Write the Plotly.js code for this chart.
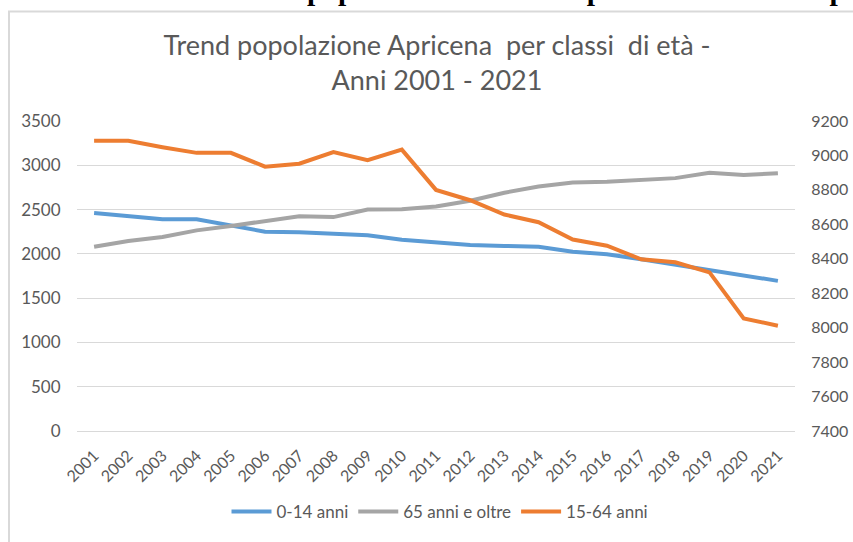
<!DOCTYPE html>
<html>
<head>
<meta charset="utf-8">
<script src="https://cdn.plot.ly/plotly-3.0.1.min.js"></script>
<style>html,body{margin:0;padding:0;background:#fff;}#chart{width:853px;height:542px;}</style>
</head>
<body>
<div id="chart"></div>
<script>
const years = ['2001','2002','2003','2004','2005','2006','2007','2008','2009','2010','2011','2012','2013','2014','2015','2016','2017','2018','2019','2020','2021'];
const age0_14 = [2460,2430,2390,2390,2315,2250,2245,2225,2210,2160,2125,2100,2090,2080,2025,1995,1940,1880,1815,1755,1695];
const age65plus = [2080,2145,2190,2265,2315,2370,2425,2415,2500,2505,2535,2600,2690,2760,2805,2815,2840,2855,2915,2890,2910];
const age15_64 = [9085,9085,9048,9015,9015,8935,8952,9020,8973,9034,8800,8740,8657,8612,8512,8476,8397,8380,8321,8054,8011];
const seriesNames = ['0-14 anni','65 anni e oltre','15-64 anni'];
const chartTitle = 'Trend popolazione Apricena  per classi  di età -<br>Anni 2001 - 2021';
const headerText = '<b>Grafico 8 – Dinamica della popolazione residente per classi di età – Apricena</b>';

const W = 853, H = 542;
const mL = 77, mR = 58, mT = 121, mB = 107;
const pw = W - mL - mR, ph = H - mT - mB;
const px2x = p => (p - mL) / pw;
const py2y = p => (H - mB - p) / ph;

const grey = '#595959';
const font = 'Lato, "Open Sans", sans-serif';

const traces = [
  {x: years, y: age0_14, name: seriesNames[0], type: 'scatter', mode: 'lines', line: {color: '#5B9BD5', width: 4}, yaxis: 'y'},
  {x: years, y: age65plus, name: seriesNames[1], type: 'scatter', mode: 'lines', line: {color: '#A5A5A5', width: 4}, yaxis: 'y'},
  {x: years, y: age15_64, name: seriesNames[2], type: 'scatter', mode: 'lines', line: {color: '#ED7D31', width: 4}, yaxis: 'y2'}
];

const layout = {
  width: W, height: H,
  margin: {l: mL, r: mR, t: mT, b: mB},
  paper_bgcolor: '#ffffff', plot_bgcolor: '#ffffff',
  font: {family: font, color: grey},
  title: {
    text: chartTitle,
    font: {family: font, size: 27, color: grey},
    x: px2x(437), xref: 'paper', xanchor: 'center',
    y: 1 - 55 / H, yref: 'container', yanchor: 'middle'
  },
  xaxis: {
    type: 'category', range: [-0.5, 20.5],
    tickangle: -45, tickfont: {family: font, size: 16, color: grey},
    showgrid: false, zeroline: false, showline: false,
    ticks: 'outside', ticklen: 8, tickcolor: 'rgba(0,0,0,0)'
  },
  yaxis: {
    range: [0, 3500], dtick: 500, tick0: 0,
    tickfont: {family: font, size: 17, color: grey},
    showgrid: true, gridcolor: '#D9D9D9', gridwidth: 1,
    zeroline: true, zerolinecolor: '#D9D9D9', zerolinewidth: 1,
    showline: false, ticks: 'outside', ticklen: 12, tickcolor: 'rgba(0,0,0,0)'
  },
  yaxis2: {
    overlaying: 'y', side: 'right',
    range: [7400, 9200], dtick: 200, tick0: 7400,
    tickfont: {family: font, size: 16, color: grey},
    showgrid: false, zeroline: false, showline: false,
    ticks: 'outside', ticklen: 12, tickcolor: 'rgba(0,0,0,0)'
  },
  showlegend: true,
  legend: {
    orientation: 'h', x: px2x(440), xanchor: 'center', y: py2y(517), yanchor: 'middle',
    font: {family: font, size: 17, color: grey}, itemwidth: 40,
    bgcolor: 'rgba(0,0,0,0)'
  },
  shapes: [
    {type: 'rect', xref: 'paper', yref: 'paper', x0: px2x(9), x1: px2x(870), y0: py2y(560), y1: py2y(10),
     line: {color: '#D9D9D9', width: 2}, fillcolor: 'rgba(0,0,0,0)', layer: 'below'}
  ],
  annotations: [
    {text: headerText, xref: 'paper', yref: 'paper', x: px2x(-40), y: py2y(7), xanchor: 'left', yanchor: 'bottom',
     showarrow: false, font: {family: '"Liberation Serif", "Times New Roman", serif', size: 29.5, color: '#000000'}}
  ]
};

Plotly.newPlot('chart', traces, layout, {displayModeBar: false, staticPlot: true});
</script>
</body>
</html>
